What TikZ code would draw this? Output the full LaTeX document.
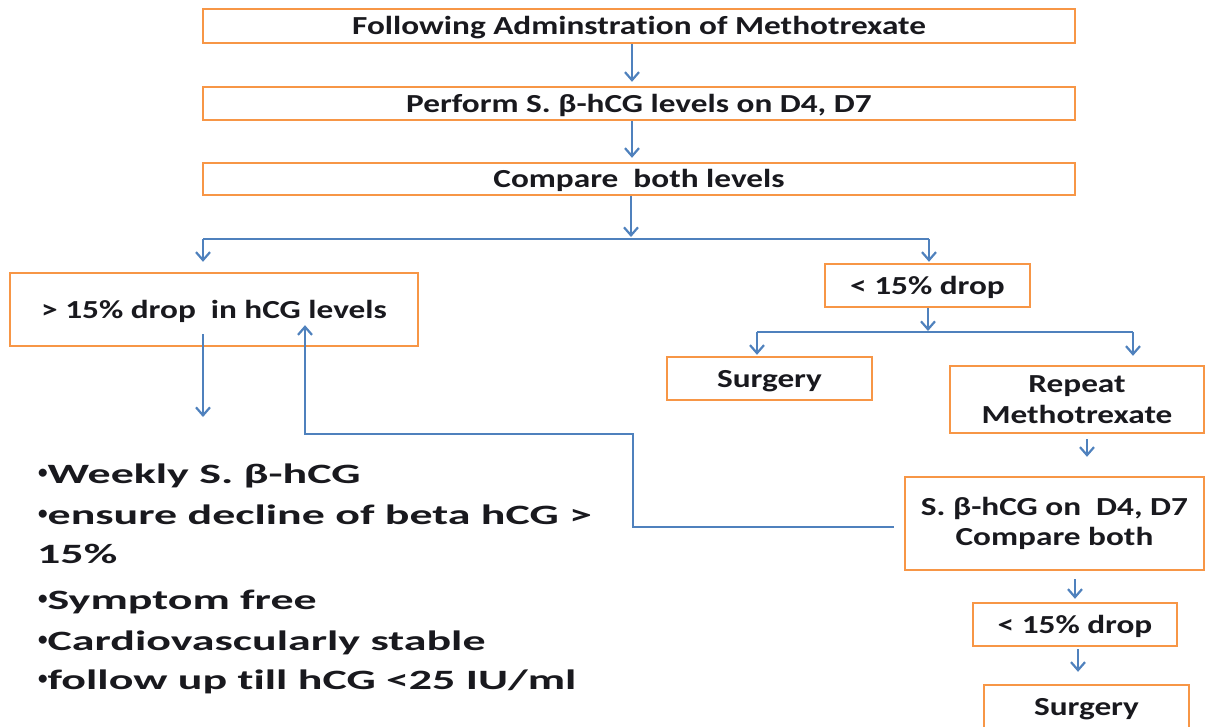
\documentclass[tikz,border=0pt]{standalone}
\usepackage{fontspec}
\setmainfont{Carlito}[Ligatures=NoCommon]
\usetikzlibrary{arrows.meta}
\definecolor{boxorange}{RGB}{247,150,70}
\definecolor{lineblue}{RGB}{79,129,189}
\definecolor{txt}{RGB}{25,25,30}
\newcommand\hs[1]{\scalebox{1.28}[1]{#1}}
\newcommand\bs[1]{\scalebox{1.64}[1]{#1}}
\newcommand\bdot{\raisebox{5pt}{\fontsize{19}{19}\selectfont •}}
\begin{document}
\begin{tikzpicture}[x=1pt,y=-1pt,
  box/.style={draw=boxorange, line width=2.4pt, inner sep=0pt, text=txt,
    font=\fontsize{26}{31}\selectfont\bfseries, align=center},
  onel/.style={text height=17pt, text depth=0pt},
  conn/.style={draw=lineblue, line width=2.2pt},
  arr/.style={conn, -{Straight Barb[length=8pt,width=14pt,line width=2.2pt]}},
  bul/.style={anchor=base west, inner sep=0pt, text=txt,
    font=\fontsize{28}{34}\selectfont\bfseries}]
\useasboundingbox (0,0) rectangle (1208,726);

% boxes
\node[box, onel, minimum width=872pt, minimum height=34pt] (b1) at (639,26) {\hs{Following Adminstration of Methotrexate}};
\node[box, onel, minimum width=872pt, minimum height=33pt] (b2) at (639,103.5) {\hs{Perform S. β-hCG levels on D4, D7}};
\node[box, onel, minimum width=872pt, minimum height=32pt] (b3) at (639,179) {\hs{Compare \ both levels}};
\node[box, onel, minimum width=408pt, minimum height=73pt] (left) at (214,309.5) {\hs{> 15\% drop \ in hCG levels}};
\node[box, onel, minimum width=205pt, minimum height=43pt] (lt) at (927.5,285.5) {\hs{< 15\% drop}};
\node[box, onel, minimum width=205pt, minimum height=43pt] (s1) at (769.5,378.5) {\hs{Surgery}};
\node[box, minimum width=254pt, minimum height=67pt] (rep) at (1077,399.5) {\hs{Repeat}\\\hs{Methotrexate}};
\node[box, minimum width=299pt, minimum height=93pt] (sb) at (1054.5,523.5) {\hs{S. β-hCG on \ D4, D7}\\[-1pt]\hs{Compare both}};
\node[box, onel, minimum width=204pt, minimum height=43pt] (lt2) at (1075,624.5) {\hs{< 15\% drop}};
\node[box, onel, minimum width=205pt, minimum height=43pt] (s2) at (1086.5,706.5) {\hs{Surgery}};

% bullet text
\node[bul] (t1) at (38,483) {\bdot\bs{Weekly S. β-hCG}};
\node[bul] (t2) at (38,524) {\bdot\bs{ensure decline of beta hCG >}};
\node[bul] (t3) at (37,563) {\bs{15\%}};
\node[bul] (t4) at (38,609) {\bdot\bs{Symptom free}};
\node[bul] (t5) at (38,650) {\bdot\bs{Cardiovascularly stable}};
\node[bul] (t6) at (38,689) {\bdot\bs{follow up till hCG <25 IU/ml}};

% junction coordinates
\coordinate (j1) at (631,239);
\coordinate (jL) at (203,239);
\coordinate (jR) at (929,239);
\coordinate (k)  at (928,332);
\coordinate (kL) at (757,332);
\coordinate (kR) at (1133,332);
\coordinate (dL) at (203,417);
\coordinate (l1) at (633,434);

% top chain
\draw[arr, shorten >=4pt] ([xshift=-7pt]b1.south) -- ([xshift=-7pt]b2.north);
\draw[arr, shorten >=4pt] ([xshift=-7pt]b2.south) -- ([xshift=-7pt]b3.north);
\draw[arr, shorten >=2pt] (j1 |- b3.south) -- (j1);
\draw[conn] (jL) -- (jR);
\draw[arr, shorten >=10pt] (jL) -- (jL |- left.north);
\draw[arr, shorten >=1pt] (jR) -- (jR |- lt.north);

% left branch
\draw[arr] ([xshift=-11pt,yshift=13pt]left.south) -- (dL);

% right branch
\draw[arr, shorten >=1pt] ([xshift=0.5pt]lt.south) -- (k);
\draw[conn] (kL) -- (kR);
\draw[arr, shorten >=1pt] (kL) -- (kL |- s1.north);
\draw[arr, shorten >=9pt] (kR) -- (kR |- rep.north);

% repeat chain
\draw[arr] ([xshift=10pt,yshift=-5pt]rep.south) -- ([xshift=32.5pt,yshift=19pt]sb.north);
\draw[arr] ([xshift=20.5pt,yshift=-8pt]sb.south) -- ([yshift=3pt]lt2.north);
\draw[arr] ([xshift=3pt,yshift=-2pt]lt2.south) -- ([xshift=-8.5pt,yshift=12pt]s2.north);

% feedback loop
\draw[arr] ([xshift=-10pt,yshift=-3.5pt]sb.west) -| (l1) -| ([xshift=91pt,yshift=22pt]left.south);
\end{tikzpicture}
\end{document}
